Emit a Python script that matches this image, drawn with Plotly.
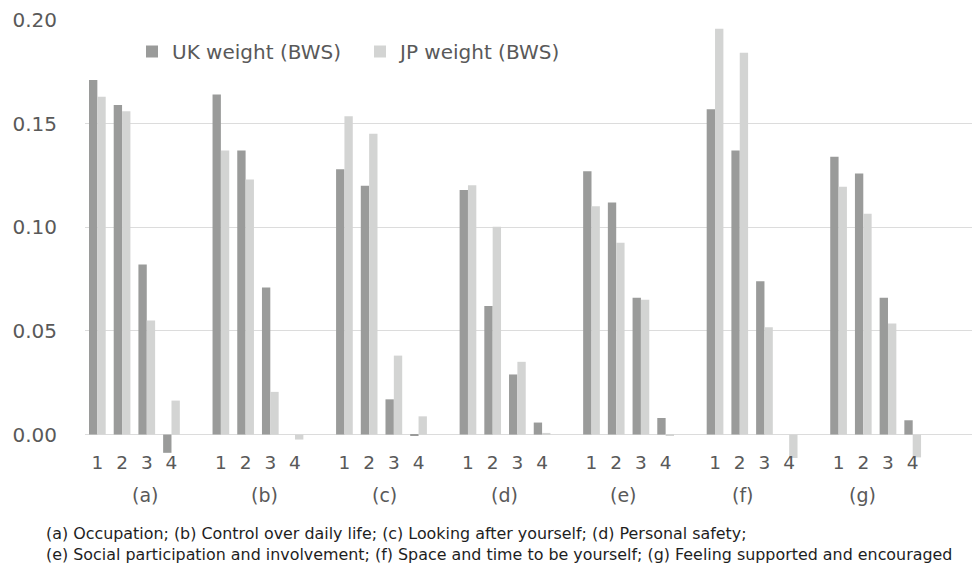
import plotly.graph_objects as go

groups = ["(a)", "(b)", "(c)", "(d)", "(e)", "(f)", "(g)"]
items = ["1", "2", "3", "4"]
uk_weight = [0.171, 0.159, 0.082, -0.0088,
             0.164, 0.137, 0.071, 0.0,
             0.128, 0.120, 0.017, -0.0005,
             0.118, 0.062, 0.029, 0.0058,
             0.127, 0.112, 0.066, 0.008,
             0.157, 0.137, 0.074, 0.0,
             0.134, 0.126, 0.066, 0.0069]
jp_weight = [0.163, 0.156, 0.055, 0.0164,
             0.137, 0.123, 0.0206, -0.0024,
             0.1536, 0.1451, 0.0381, 0.0088,
             0.1203, 0.1002, 0.0351, 0.0008,
             0.1102, 0.0925, 0.065, -0.0005,
             0.1958, 0.1842, 0.0518, -0.0113,
             0.1195, 0.1065, 0.0536, -0.011]
y_ticks = [0.0, 0.05, 0.10, 0.15, 0.20]
footnote = ["(a) Occupation; (b) Control over daily life; (c) Looking after yourself; (d) Personal safety;",
            "(e) Social participation and involvement; (f) Space and time to be yourself; (g) Feeling supported and encouraged"]

SLOTS = 5  # four items plus one empty slot per group
pos = [gi * SLOTS + ii for gi in range(len(groups)) for ii in range(len(items))]
labels = [it for _ in groups for it in items]

FONT = "Verdana, DejaVu Sans, sans-serif"
TXT = "#595959"
W, H = 972, 563
ML, MR, MT, MB = 85, 0, 20, 105
plot_w = W - ML - MR
plot_h = H - MT - MB

fig = go.Figure()
fig.add_bar(x=pos, y=uk_weight, name="UK weight (BWS)", marker_color="#9a9b9a", marker_line_width=0)
fig.add_bar(x=pos, y=jp_weight, name="JP weight (BWS)", marker_color="#d3d4d3", marker_line_width=0)

annotations = []
for gi, g in enumerate(groups):
    annotations.append(dict(text=g, x=1.94 + gi * 4.84, xref="x", y=0, yref="paper",
                            yshift=-37, showarrow=False, xanchor="center", yanchor="middle",
                            font=dict(family=FONT, size=19, color=TXT)))
fn_y_px = [533.3, 554.3]
for line, ypx in zip(footnote, fn_y_px):
    annotations.append(dict(text=line, x=(44 - ML) / plot_w, xref="paper",
                            y=(H - MB - ypx) / plot_h, yref="paper",
                            showarrow=False, xanchor="left", yanchor="middle",
                            font=dict(family=FONT, size=15.9, color="#1e1e1e")))

fig.update_layout(
    width=W, height=H,
    margin=dict(l=ML, r=MR, t=MT, b=MB),
    paper_bgcolor="white", plot_bgcolor="white",
    barmode="group", bargap=0.324, bargroupgap=0,
    font=dict(family=FONT, color=TXT),
    showlegend=True,
    legend=dict(orientation="h", x=0.053, y=(H - MB - 51.5) / plot_h,
                xanchor="left", yanchor="middle",
                font=dict(family=FONT, size=20, color=TXT), bgcolor="rgba(0,0,0,0)",
                entrywidth=183, itemwidth=30),
    xaxis=dict(range=[-0.5, 35.4], tickmode="array", tickvals=pos, ticktext=labels,
               showgrid=False, zeroline=False, showline=False, ticks="",
               tickfont=dict(family=FONT, size=18.5, color=TXT), ticklabelstandoff=-9),
    yaxis=dict(range=[-0.0113, 0.2], tickmode="array", tickvals=y_ticks,
               ticktext=[f"{v:.2f}" for v in y_ticks],
               showgrid=True, gridcolor="#dcdcdc", gridwidth=1,
               zeroline=True, zerolinecolor="#dcdcdc", zerolinewidth=1,
               showline=False, ticks="", ticklabelstandoff=27,
               tickfont=dict(family=FONT, size=20, color=TXT)),
    annotations=annotations,
)

fig.write_html("out.html", config={"displayModeBar": False},
               post_script="document.body.style.margin='0';document.body.style.padding='0';")
